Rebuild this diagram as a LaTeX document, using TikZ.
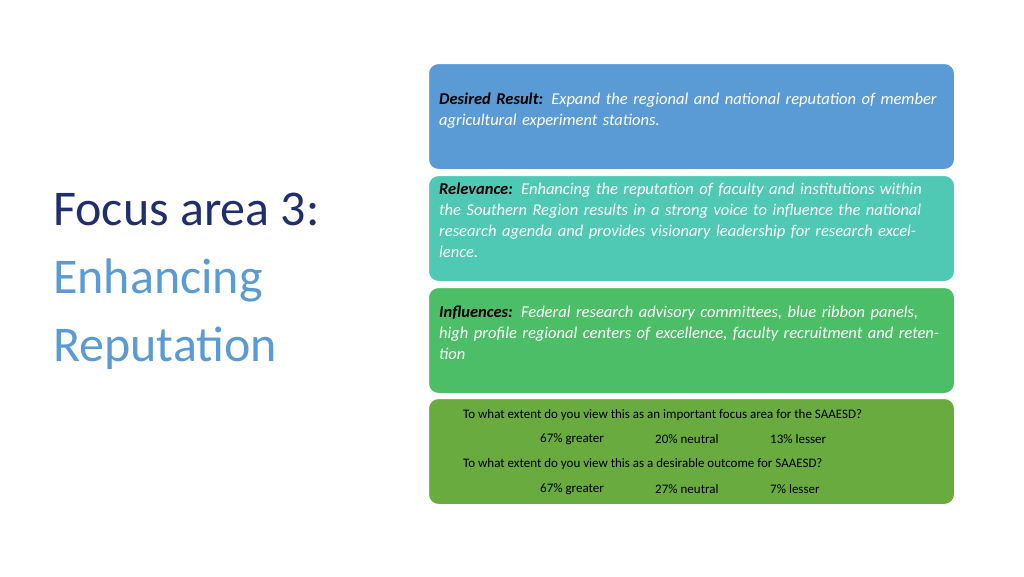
\documentclass[tikz,border=0pt]{standalone}
\usepackage{fontspec}
\setmainfont{Carlito}
\usetikzlibrary{positioning}
\definecolor{boxblue}{HTML}{5B9BD5}
\definecolor{boxteal}{HTML}{4FC8B4}
\definecolor{boxgreen}{HTML}{4DBE68}
\definecolor{boxolive}{HTML}{6AAB3F}
\definecolor{titlenavy}{HTML}{1F2F6E}
\definecolor{titleblue}{HTML}{5B9BD5}
\tikzset{
	panel/.style={draw=white, line width=1pt, rounded corners=10pt, fill=#1, minimum width=526pt, minimum height=106pt, anchor=north west},
	paneltext/.style={anchor=north west, text width=505pt, align=left, inner sep=0pt, font=\fontsize{16.5}{21}\selectfont},
	qtext/.style={anchor=west, inner sep=0pt, font=\fontsize{13}{15}\selectfont},
}
\begin{document}
\begin{tikzpicture}[x=1pt,y=-1pt]
	\useasboundingbox (0,0) rectangle (1024,576);
	% title
	\node [anchor=west, inner sep=0pt, align=left, font=\fontsize{50}{68}\selectfont] (title) at (53,281)
	{\textcolor{titlenavy}{Focus area 3:}\\ \textcolor{titleblue}{Enhancing}\\ \textcolor{titleblue}{Reputation}};
	% panels
	\node [panel=boxblue] (desired) at (428,63) {};
	\node [panel=boxteal] (relevance) at (428,175) {};
	\node [panel=boxgreen] (influences) at (428,287) {};
	\node [panel=boxolive] (survey) at (428,398) {};
	\node [paneltext] (tdesired) at (439,93) {\textit{\textbf{Desired Result:} \textcolor{white}{Expand the regional and national reputation of member agricultural experiment stations.}}};
	\node [paneltext] (trelevance) at (439,183) {\textit{\textbf{Relevance:} \textcolor{white}{Enhancing the reputation of faculty and institutions within the Southern Region results in a strong voice to influence the national research agenda and provides visionary leadership for research excellence.}}};
	\node [paneltext] (tinfluences) at (439,306) {\textit{\textbf{Influences:} \textcolor{white}{Federal research advisory committees, blue ribbon panels, high profile regional centers of excellence, faculty recruitment and retention}}};
	% survey
	\node [qtext] (q1) at (463,415) {To what extent do you view this as an important focus area for the SAAESD?};
	\node [qtext] (a1) at (540,439) {67\% greater};
	\node [qtext] (b1) at (655,439) {20\% neutral};
	\node [qtext] (c1) at (770,439) {13\% lesser};
	\node [qtext] (q2) at (463,464) {To what extent do you view this as a desirable outcome for SAAESD?};
	\node [qtext] (a2) at (540,489) {67\% greater};
	\node [qtext] (b2) at (655,489) {27\% neutral};
	\node [qtext] (c2) at (770,489) {7\% lesser};
\end{tikzpicture}
\end{document}
